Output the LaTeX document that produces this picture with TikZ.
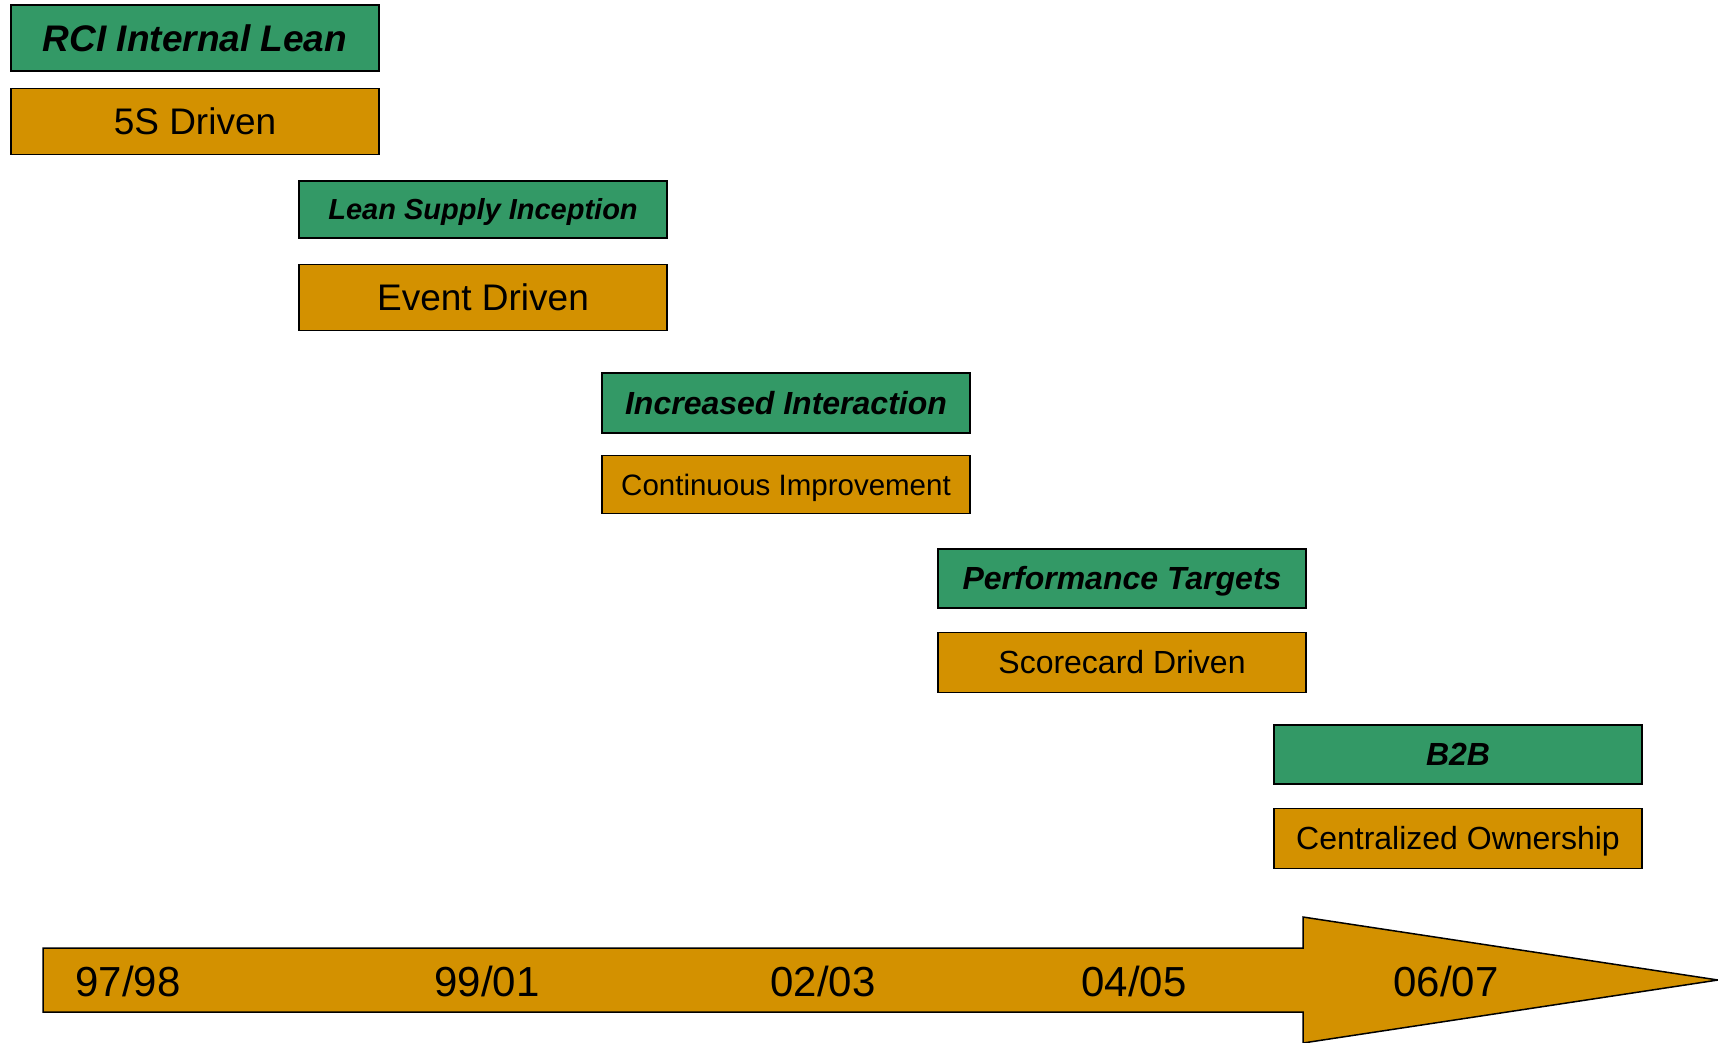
\documentclass[tikz,border=0pt]{standalone}
\usepackage{fontspec}
\setmainfont{Liberation Sans}
\usepackage{xcolor}
\usepackage{tikz}
\usetikzlibrary{positioning}
\definecolor{phasegreen}{RGB}{51,153,102}
\definecolor{phasegold}{RGB}{211,145,0}

\begin{document}
\begin{tikzpicture}[x=1pt, y=-1pt, node distance=16pt,
  phase/.style={draw, line width=1.5pt, fill=phasegreen, minimum width=368pt, inner sep=0pt,
    text height=0.716*#1pt, text depth=0pt, font=\fontsize{#1}{#1}\selectfont\bfseries\itshape},
  focus/.style={draw, line width=1.5pt, fill=phasegold, minimum width=368pt, inner sep=0pt,
    text height=0.716*#1pt, text depth=0pt, font=\fontsize{#1}{#1}\selectfont},
  year/.style={inner sep=0pt, text height=30pt, text depth=0pt, font=\fontsize{42}{42}\selectfont}]
\useasboundingbox (0,0) rectangle (1718,1042);
% phases, green title over gold driver
\node[phase=37, minimum height=66pt] (rci) at (195,38) {RCI Internal Lean};
\node[focus=37, minimum height=66pt, below=16pt of rci] (fives) {5S Driven};
\node[phase=29, minimum height=57pt] (supply) at (483,209.5) {Lean Supply Inception};
\node[focus=37, minimum height=66pt, below=25pt of supply] (event) {Event Driven};
\node[phase=32, minimum height=60pt] (interact) at (786,403) {Increased Interaction};
\node[focus=29.5, minimum height=58pt, below=21pt of interact] (contin) {Continuous Improvement};
\node[phase=32, minimum height=59pt] (targets) at (1122,578.5) {Performance Targets};
\node[focus=32, minimum height=60pt, below=23pt of targets] (score) {Scorecard Driven};
\node[phase=32, minimum height=59pt] (btob) at (1458,754.5) {B2B};
\node[focus=32, minimum height=60pt, below=23pt of btob] (owner) {Centralized Ownership};
% time line
\draw[line width=1.5pt, fill=phasegold] (43,948) -- (1303,948) -- (1303,917) -- (1718,980)
  -- (1303,1043) -- (1303,1012) -- (43,1012) -- cycle;
\foreach \x/\yr in {128/{97/98}, 487/{99/01}, 823/{02/03}, 1134/{04/05}, 1446/{06/07}}
  \node[year] (yr-\x) at (\x,981) {\yr};
\end{tikzpicture}
\end{document}
